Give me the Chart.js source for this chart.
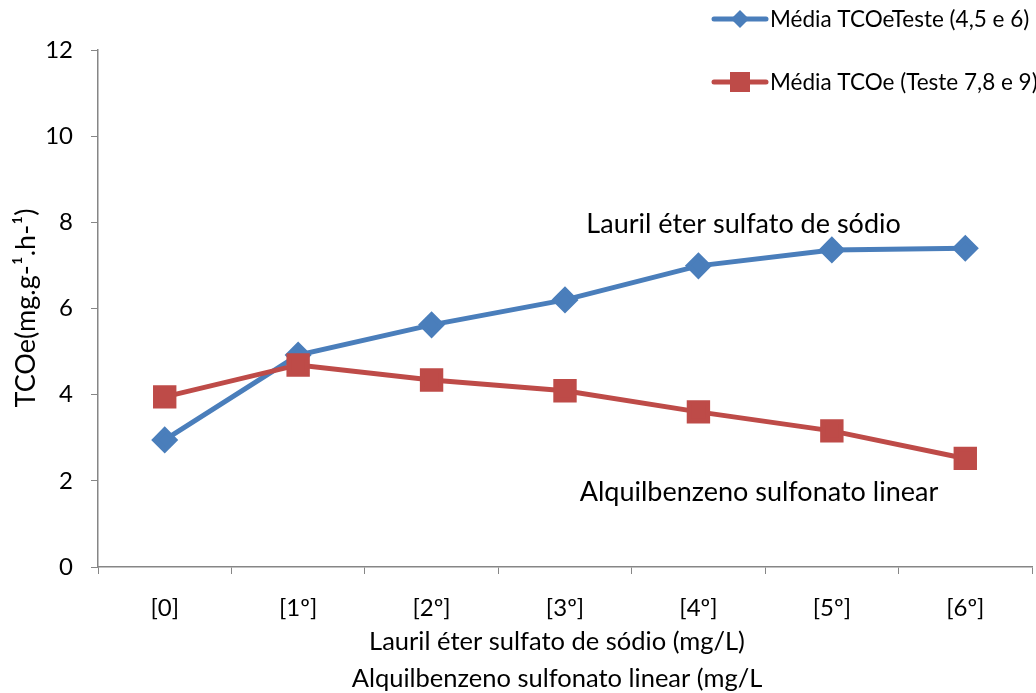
<!DOCTYPE html>
<html>
<head>
<meta charset="utf-8">
<script src="https://cdn.jsdelivr.net/npm/chart.js@4/dist/chart.umd.min.js"></script>
<style>
  html, body { margin: 0; padding: 0; background: #fff; }
  #wrap { width: 1036px; height: 693px; }
</style>
</head>
<body>
<div id="wrap"><canvas id="tcoeChart"></canvas></div>
<script>
const categories = ["[0]", "[1º]", "[2º]", "[3º]", "[4º]", "[5º]", "[6º]"];
const lesValues = [2.95, 4.92, 5.62, 6.2, 6.99, 7.36, 7.4];   // Lauril éter sulfato de sódio
const lasValues = [3.95, 4.69, 4.34, 4.09, 3.6, 3.16, 2.52];  // Alquilbenzeno sulfonato linear
const seriesNames = ["Média TCOeTeste (4,5 e 6)", "Média TCOe (Teste 7,8 e 9)"];
const yTicks = [0, 2, 4, 6, 8, 10, 12];
const xTitleLines = ["Lauril éter sulfato de sódio (mg/L)", "Alquilbenzeno sulfonato linear (mg/L"];
const yTitle = "TCOe(mg.g-¹.h-¹)";

const blue = "#4a7ebb";
const red = "#be4b48";
const axisGray = "#868686";
const font = "Lato, 'Open Sans', sans-serif";

// legend drawn by hand: line + marker, stacked at top right
const sideLegend = {
    id: "sideLegend",
    afterDraw(chart) {
        const ctx = chart.ctx;
        const items = [
            { y: 19, color: blue, shape: "diamond" },
            { y: 82, color: red, shape: "square" }
        ];
        ctx.save();
        items.forEach((it, i) => {
            ctx.strokeStyle = it.color;
            ctx.lineWidth = 5;
            ctx.lineCap = "round";
            ctx.beginPath();
            ctx.moveTo(714, it.y);
            ctx.lineTo(766, it.y);
            ctx.stroke();
            ctx.fillStyle = it.color;
            ctx.beginPath();
            if (it.shape === "diamond") {
                ctx.moveTo(740, it.y - 9);
                ctx.lineTo(749, it.y);
                ctx.lineTo(740, it.y + 9);
                ctx.lineTo(731, it.y);
            } else {
                ctx.rect(730, it.y - 10, 20, 20);
            }
            ctx.fill();
            ctx.fillStyle = "#000";
            ctx.font = "22.5px " + font;
            ctx.textBaseline = "middle";
            ctx.textAlign = "left";
            ctx.fillText(seriesNames[i], 770, it.y + 1);
        });
        ctx.restore();
    }
};

// series labels inside the plot + axis titles
const notes = {
    id: "notes",
    afterDraw(chart) {
        const ctx = chart.ctx;
        const x = chart.scales.x, y = chart.scales.y;
        const area = chart.chartArea;
        ctx.save();
        ctx.fillStyle = "#000";
        ctx.textBaseline = "middle";
        ctx.textAlign = "left";
        ctx.font = "27px " + font;
        ctx.fillText("Lauril éter sulfato de sódio", x.getPixelForValue(3.16), y.getPixelForValue(7.96));
        ctx.fillText("Alquilbenzeno sulfonato linear", x.getPixelForValue(3.11), y.getPixelForValue(1.74));

        ctx.textAlign = "center";
        ctx.font = "25.5px " + font;
        const cx = (area.left + area.right) / 2 - 8;
        ctx.fillText(xTitleLines[0], cx, 642);
        ctx.fillText(xTitleLines[1], cx, 679);

        ctx.translate(26, 308);
        ctx.rotate(-Math.PI / 2);
        ctx.font = "27px " + font;
        ctx.fillText(yTitle, 0, 0);
        ctx.restore();
    }
};

new Chart(document.getElementById("tcoeChart").getContext("2d"), {
    type: "line",
    data: {
        labels: categories,
        datasets: [
            {
                label: seriesNames[0],
                data: lesValues,
                borderColor: blue,
                backgroundColor: blue,
                borderWidth: 5,
                pointStyle: "rectRot",
                pointRadius: 10,
                pointHoverRadius: 10,
                tension: 0,
                order: 2
            },
            {
                label: seriesNames[1],
                data: lasValues,
                borderColor: red,
                backgroundColor: red,
                borderWidth: 5,
                pointStyle: "rect",
                pointRadius: 13,
                pointHoverRadius: 13,
                tension: 0,
                order: 1
            }
        ]
    },
    options: {
        responsive: true,
        maintainAspectRatio: false,
        animation: false,
        layout: { autoPadding: false, padding: { top: 50, right: 4, left: 0, bottom: 0 } },
        plugins: {
            legend: { display: false },
            tooltip: { enabled: false }
        },
        scales: {
            x: {
                offset: true,
                grid: { display: true, drawOnChartArea: false, drawTicks: true, tickLength: 7, color: axisGray, offset: true },
                border: { color: axisGray, width: 1.5 },
                ticks: { color: "#000", font: { family: font, size: 24 }, padding: 20 },
                afterFit(scale) { scale.height = 126; }
            },
            y: {
                min: 0,
                max: 12,
                afterBuildTicks(scale) { scale.ticks = yTicks.map(v => ({ value: v })); },
                grid: { display: true, drawOnChartArea: false, drawTicks: true, tickLength: 7, color: axisGray },
                border: { color: axisGray, width: 1.5 },
                ticks: { color: "#000", font: { family: font, size: 24 }, padding: 18 },
                afterFit(scale) { scale.width = 98; }
            }
        }
    },
    plugins: [sideLegend, notes]
});
</script>
</body>
</html>
